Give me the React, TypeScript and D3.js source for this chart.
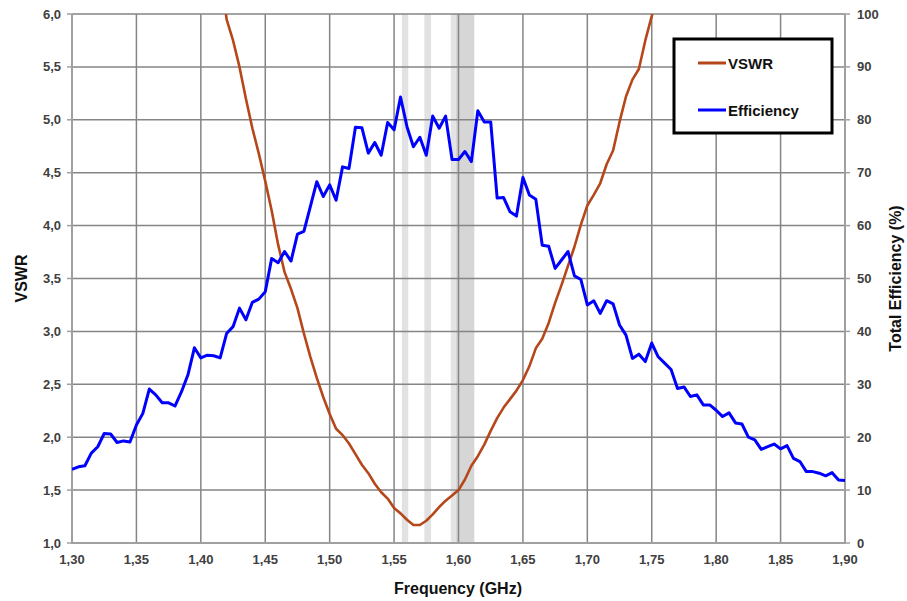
import React from "react";
import * as d3 from "d3";

// ---- data ----
const freqStart = 1.3;
const freqStep = 0.005;
const efficiency = [
  13.9, 14.4, 14.6, 17.0, 18.2, 20.7, 20.6, 19.0, 19.3, 19.1,
  22.3, 24.5, 29.1, 28.0, 26.5, 26.5, 25.9, 28.6, 31.8, 36.9,
  35.0, 35.5, 35.4, 35.0, 39.6, 40.9, 44.4, 42.2, 45.5, 46.1,
  47.5, 53.8, 53.0, 55.1, 53.3, 58.4, 58.9, 63.6, 68.3, 65.5,
  67.7, 64.8, 71.1, 70.8, 78.6, 78.5, 73.7, 75.7, 73.3, 79.5,
  78.1, 84.3, 78.7, 74.9, 76.7, 73.3, 80.7, 78.4, 80.7, 72.5,
  72.5, 74.0, 72.1, 81.7, 79.6, 79.6, 65.2, 65.3, 62.6, 61.8,
  69.1, 65.8, 65.0, 56.3, 56.1, 51.9, 53.5, 55.1, 50.5, 49.8,
  45.0, 45.8, 43.4, 45.8, 45.2, 41.2, 39.3, 34.9, 35.7, 34.3,
  37.8, 35.2, 34.0, 32.8, 29.2, 29.5, 27.7, 28.0, 26.1, 26.1,
  25.1, 23.9, 24.6, 22.7, 22.5, 20.0, 19.5, 17.7, 18.2, 18.7,
  17.8, 18.4, 16.0, 15.4, 13.5, 13.5, 13.2, 12.7, 13.3, 11.9, 11.8,
];
const vswrFreqStart = 1.415;
const vswr = [
  6.45, 5.95, 5.75, 5.5, 5.2, 4.92, 4.68, 4.42, 4.14, 3.82,
  3.56, 3.40, 3.22, 2.98, 2.76, 2.56, 2.38, 2.22, 2.08, 2.02,
  1.94, 1.84, 1.74, 1.66, 1.56, 1.48, 1.42, 1.33, 1.28, 1.22,
  1.17, 1.17, 1.21, 1.27, 1.34, 1.40, 1.45, 1.50, 1.60, 1.73,
  1.82, 1.93, 2.06, 2.18, 2.28, 2.36, 2.44, 2.54, 2.67, 2.84,
  2.93, 3.08, 3.27, 3.44, 3.62, 3.80, 4.01, 4.19, 4.29, 4.40,
  4.58, 4.71, 4.98, 5.22, 5.38, 5.48, 5.75, 5.98, 6.25,
];
const bandStart = [1.556, 1.5735, 1.594, 1.598];
const bandEnd = [1.561, 1.5787, 1.598, 1.6123];
const xTicks = [1.3, 1.35, 1.4, 1.45, 1.5, 1.55, 1.6, 1.65, 1.7, 1.75, 1.8, 1.85, 1.9];
const yLeftTicks = [1, 1.5, 2, 2.5, 3, 3.5, 4, 4.5, 5, 5.5, 6];
const yRightTicks = [0, 10, 20, 30, 40, 50, 60, 70, 80, 90, 100];
const seriesNames = ["VSWR", "Efficiency"];

// ---- styles ----
const W = 907, H = 601;
const L = 72, R = 845, T = 14, B = 543;
const bandColors = ["#e2e2e2", "#e2e2e2", "#e4e4e4", "#d6d6d6"];
const vswrColor = "#b5471a";
const effColor = "#0000ff";
const gridColor = "#858585";
const axisColor = "#a0a0a0";
const font = "'Liberation Sans', Arial, sans-serif";
const tickColor = "#404040";

export default function App() {
  const x = d3.scaleLinear().domain([1.3, 1.9]).range([L, R]);
  const yL = d3.scaleLinear().domain([1, 6]).range([B, T]);
  const yR = d3.scaleLinear().domain([0, 100]).range([B, T]);

  const effPts = efficiency.map((v, i) => [freqStart + i * freqStep, v] as [number, number]);
  const vswrPts = vswr.map((v, i) => [vswrFreqStart + i * freqStep, v] as [number, number]);

  const effLine = d3.line<[number, number]>().x((d) => x(d[0])).y((d) => yR(d[1]))(effPts) || "";
  const vswrLine = d3.line<[number, number]>().x((d) => x(d[0])).y((d) => yL(d[1]))(vswrPts) || "";

  const fx = (v: number) => v.toFixed(2).replace(".", ",");
  const fy = (v: number) => v.toFixed(1).replace(".", ",");

  return (
    <svg width={W} height={H} style={{ position: "absolute", left: 0, top: 0, background: "#fff" }}>
      <defs>
        <clipPath id="plot">
          <rect x={L} y={T} width={R - L} height={B - T} />
        </clipPath>
      </defs>
      <rect width={W} height={H} fill="#fff" />
      {bandStart.map((s, i) => (
        <rect key={"b" + i} x={x(s)} y={T} width={x(bandEnd[i]) - x(s)} height={B - T} fill={bandColors[i]} />
      ))}
      {/* horizontal grid */}
      {yLeftTicks.slice(1).map((t) => (
        <line key={"h" + t} x1={L} x2={R} y1={yL(t)} y2={yL(t)} stroke={gridColor} strokeWidth={1.5} />
      ))}
      {/* vertical grid */}
      {xTicks.slice(1, -1).map((t) => (
        <line key={"v" + t} x1={x(t)} x2={x(t)} y1={T} y2={B} stroke={gridColor} strokeWidth={1.5} />
      ))}
      {/* axes */}
      <line x1={L} x2={L} y1={T} y2={B + 1} stroke={axisColor} strokeWidth={2} />
      <line x1={R} x2={R} y1={T} y2={B + 1} stroke={axisColor} strokeWidth={2} />
      <line x1={L} x2={R} y1={B} y2={B} stroke={axisColor} strokeWidth={2} />
      {yLeftTicks.map((t) => (
        <g key={"lt" + t}>
          <line x1={L - 5} x2={L} y1={yL(t)} y2={yL(t)} stroke={axisColor} strokeWidth={1.5} />
          <text x={L - 11} y={yL(t) + 4.5} textAnchor="end" fontFamily={font} fontWeight="bold" fontSize={13} fill={tickColor}>
            {fy(t)}
          </text>
        </g>
      ))}
      {yRightTicks.map((t) => (
        <g key={"rt" + t}>
          <line x1={R} x2={R + 5} y1={yR(t)} y2={yR(t)} stroke={axisColor} strokeWidth={1.5} />
          <text x={R + 12} y={yR(t) + 4.5} textAnchor="start" fontFamily={font} fontWeight="bold" fontSize={13} fill={tickColor}>
            {t}
          </text>
        </g>
      ))}
      {xTicks.map((t) => (
        <text key={"xt" + t} x={x(t)} y={564} textAnchor="middle" fontFamily={font} fontWeight="bold" fontSize={13} fill={tickColor}>
          {fx(t)}
        </text>
      ))}
      {/* series */}
      <g clipPath="url(#plot)">
        <path d={vswrLine} fill="none" stroke={vswrColor} strokeWidth={2.6} strokeLinejoin="round" />
        <path d={effLine} fill="none" stroke={effColor} strokeWidth={3} strokeLinejoin="round" />
      </g>
      {/* axis titles */}
      <text x={458} y={594} textAnchor="middle" fontFamily={font} fontWeight="bold" fontSize={16} fill="#111">
        Frequency (GHz)
      </text>
      <text transform={`translate(27,${(T + B) / 2}) rotate(-90)`} textAnchor="middle" fontFamily={font} fontWeight="bold" fontSize={16} fill="#111">
        VSWR
      </text>
      <text transform={`translate(901,${(T + B) / 2}) rotate(-90)`} textAnchor="middle" fontFamily={font} fontWeight="bold" fontSize={16} fill="#111">
        Total Efficiency (%)
      </text>
      {/* legend */}
      <rect x={674} y={39} width={158} height={94} fill="#fff" stroke="#000" strokeWidth={3} />
      {seriesNames.map((n, i) => (
        <g key={n}>
          <line x1={698} x2={726} y1={63 + i * 47} y2={63 + i * 47} stroke={i === 0 ? vswrColor : effColor} strokeWidth={3} />
          <text x={728} y={69 + i * 47} fontFamily={font} fontWeight="bold" fontSize={15} fill="#111">
            {n}
          </text>
        </g>
      ))}
    </svg>
  );
}
